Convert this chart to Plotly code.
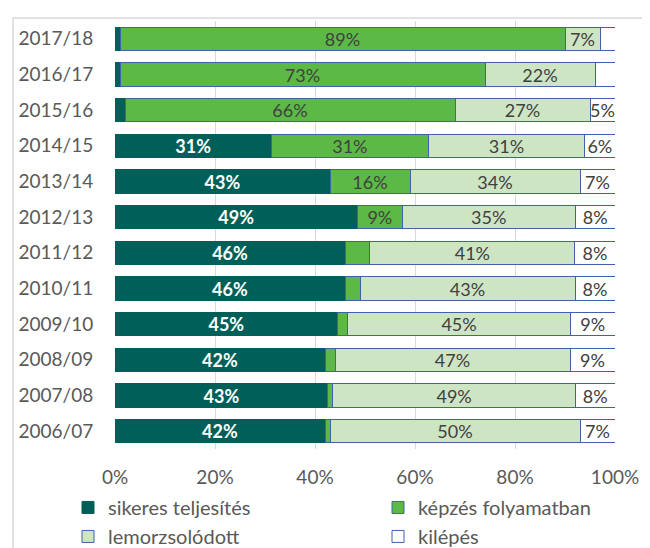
import plotly.graph_objects as go

years = ["2006/07", "2007/08", "2008/09", "2009/10", "2010/11", "2011/12",
         "2012/13", "2013/14", "2014/15", "2015/16", "2016/17", "2017/18"]
sikeres = [42, 43, 42, 45, 46, 46, 49, 43, 31, 2, 1, 1]
kepzes = [1, 1, 2, 2, 3, 4.9, 9, 16, 31, 66, 73, 89]
lemorzs = [50, 49, 47, 45, 43, 41, 35, 34, 31, 27, 22, 7]
kilepes = [7, 8, 9, 9, 8, 8, 8, 7, 6, 5, 4, 3]
tick_vals = [0, 20, 40, 60, 80, 100]
tick_text = ["0%", "20%", "40%", "60%", "80%", "100%"]

series = [
    ("sikeres teljesítés", sikeres, "#005F59", "#005F59", "white", "bold", "legend"),
    ("képzés folyamatban", kepzes, "#5DB946", "#3F62AD", "#404040", "normal", "legend2"),
    ("lemorzsolódott", lemorzs, "#CEE5C4", "#3F62AD", "#404040", "normal", "legend"),
    ("kilépés", kilepes, "#FFFFFF", "#3F62AD", "#404040", "normal", "legend2"),
]

FONT = "Lato"
fig = go.Figure()
for name, vals, fill, line, tcol, weight, lg in series:
    texts = [f"{round(v)}%" if v >= 5 else "" for v in vals]
    fig.add_trace(go.Bar(
        y=years, x=vals, name=name, orientation="h", legend=lg,
        marker=dict(color=fill, line=dict(color=line, width=1)),
        text=texts, textposition="inside", insidetextanchor="middle",
        textangle=0, constraintext="none",
        insidetextfont=dict(family=FONT, size=18, color=tcol, weight=weight),
        hoverinfo="skip",
    ))

legend_common = dict(orientation="v", yanchor="top", xanchor="left",
                     traceorder="normal", bgcolor="rgba(0,0,0,0)",
                     font=dict(family=FONT, size=20, color="#595959"),
                     itemclick=False, tracegroupgap=0)

fig.update_layout(
    width=642, height=540,
    barmode="stack", barnorm="percent", bargap=0.34,
    margin=dict(l=107, r=35, t=13, b=98.5, autoexpand=False),
    paper_bgcolor="white", plot_bgcolor="white",
    font=dict(family=FONT, size=19, color="#595959"),
    xaxis=dict(range=[0, 100], tickmode="array", tickvals=tick_vals, ticktext=tick_text,
               showgrid=True, gridcolor="#D9D9D9", gridwidth=1, zeroline=False,
               showline=False, ticks="outside", ticklen=11, tickcolor="rgba(0,0,0,0)",
               automargin=False,
               tickfont=dict(family=FONT, size=19, color="#595959")),
    yaxis=dict(showgrid=False, showline=False, ticks="outside", ticklen=17,
               tickcolor="rgba(0,0,0,0)", automargin=False,
               tickfont=dict(family=FONT, size=19, color="#595959")),
    legend=dict(x=-0.094, y=-0.091, **legend_common),
    legend2=dict(x=0.526, y=-0.091, **legend_common),
    showlegend=True,
    shapes=[dict(type="rect", xref="paper", yref="paper",
                 x0=-0.204, x1=1.2, y0=-0.5, y1=1.007,
                 line=dict(color="#D9D9D9", width=1.5), layer="below")],
)

fig.write_html("out.html")
